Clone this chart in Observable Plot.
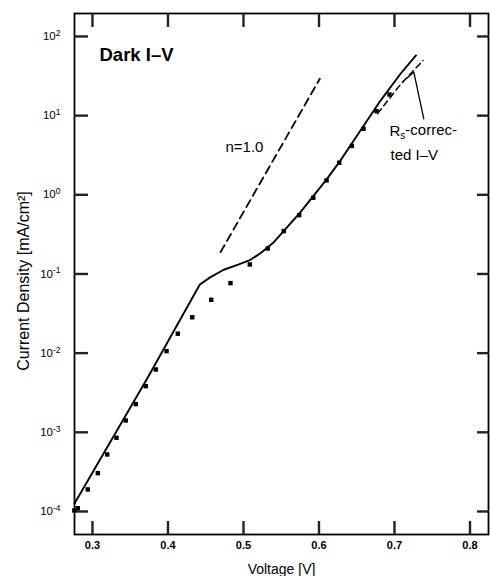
<!DOCTYPE html>
<html>
<head>
<meta charset="utf-8">
<script src="https://cdn.jsdelivr.net/npm/d3@7"></script>
<script src="https://cdn.jsdelivr.net/npm/@observablehq/plot@0.6"></script>
<style>
  html, body { margin: 0; padding: 0; background: white; }
</style>
</head>
<body>
<div id="chart"></div>
<script>
// Measured dark I-V points (voltage [V], current density [mA/cm^2])
const measV = [0.276, 0.2806, 0.2938, 0.3071, 0.3195, 0.3318, 0.3441, 0.3574, 0.3706, 0.3839,
  0.3981, 0.4130, 0.4321, 0.4573, 0.4828, 0.5084, 0.5322, 0.5534, 0.5738, 0.5924,
  0.6100, 0.6268, 0.6435, 0.6590, 0.6762, 0.6934];
const measJ = [1.03e-4, 1.10e-4, 1.90e-4, 3.05e-4, 5.25e-4, 8.53e-4, 1.41e-3, 2.27e-3, 3.83e-3, 6.22e-3,
  1.06e-2, 1.76e-2, 2.84e-2, 4.72e-2, 7.66e-2, 0.132, 0.210, 0.348, 0.553, 0.918,
  1.52, 2.54, 4.14, 6.82, 11.4, 18.5];

// Solid curve
const curveV = [0.2762, 0.3725, 0.4422, 0.4563, 0.4739, 0.4938, 0.5093, 0.5225, 0.5402, 0.5579,
  0.5755, 0.5932, 0.6109, 0.6285, 0.6461, 0.6815, 0.7080, 0.7285];
const curveJ = [1.26e-4, 4.79e-3, 0.0738, 0.0912, 0.113, 0.132, 0.151, 0.183, 0.252, 0.390,
  0.604, 0.982, 1.60, 2.72, 4.86, 15.5, 33.8, 57.5];

// Rs-corrected I-V (dashed)
const rsV = [0.6775, 0.7080, 0.7378];
const rsJ = [10.6, 24.8, 49.8];

// n = 1.0 reference slope (dashed)
const idealV = [0.4696, 0.6011];
const idealJ = [0.1886, 29.2];

// Leader line for the Rs-corrected label
const leaderV = [0.7159, 0.7256, 0.7388];
const leaderJ = [29.5, 35.4, 9.12];

// Axis ticks
const xTicks = [0.3, 0.4, 0.5, 0.6, 0.7, 0.8];
const yTicks = [1e-4, 1e-3, 1e-2, 1e-1, 1e0, 1e1, 1e2];

const toRows = (xs, ys) => xs.map((x, i) => ({x, y: ys[i]}));
const meas = toRows(measV, measJ);
const curve = toRows(curveV, curveJ);
const rs = toRows(rsV, rsJ);
const ideal = toRows(idealV, idealJ);
const leader = toRows(leaderV, leaderJ);

const font = '"Liberation Sans", Arial, Helvetica, sans-serif';
const tickColor = "#222222";

const chart = Plot.plot({
  width: 490,
  height: 576,
  marginLeft: 74,
  marginRight: 2,
  marginTop: 13,
  marginBottom: 42,
  style: {fontFamily: font, fontSize: "11px", background: "white"},
  x: {domain: [0.2762, 0.8245]},
  y: {type: "log", domain: [5.12e-5, 195]},
  marks: [
    Plot.frame({stroke: "#000", strokeWidth: 1.8}),
    // inward ticks on all four sides (negative tick size points into the frame)
    Plot.axisX({anchor: "bottom", ticks: xTicks, tickSize: -13, tickFormat: () => "", label: null, stroke: tickColor, strokeWidth: 2.4}),
    Plot.axisX({anchor: "top", ticks: xTicks, tickSize: -13, tickFormat: () => "", label: null, stroke: tickColor, strokeWidth: 2.4}),
    Plot.axisY({anchor: "left", ticks: yTicks, tickSize: -14, tickFormat: () => "", label: null, stroke: tickColor, strokeWidth: 2.4}),
    Plot.axisY({anchor: "right", ticks: yTicks, tickSize: -12, tickFormat: () => "", label: null, stroke: tickColor, strokeWidth: 2.4}),
    // tick labels
    Plot.axisX({anchor: "bottom", ticks: xTicks, tickSize: 0, tickPadding: 7, tickFormat: d => d.toFixed(1), label: null, fontSize: 11, fontWeight: "bold"}),
    Plot.axisY({anchor: "left", ticks: yTicks, tickSize: 0, tickPadding: 14, tickFormat: d => "10^" + Math.round(Math.log10(d)), label: null, fontSize: 11.5}),
    // axis titles
    Plot.text(["Voltage [V]"], {frameAnchor: "bottom", dy: 35, fontSize: 14, textAnchor: "middle", lineAnchor: "middle"}),
    Plot.text(["Current Density [mA/cm²]"], {frameAnchor: "left", dx: -51, dy: 7, rotate: -90, fontSize: 16, textAnchor: "middle", lineAnchor: "middle"}),
    // data
    Plot.line(curve, {x: "x", y: "y", stroke: "#000", strokeWidth: 1.9}),
    Plot.line(rs, {x: "x", y: "y", stroke: "#000", strokeWidth: 1.5, strokeDasharray: "6,4"}),
    Plot.line(ideal, {x: "x", y: "y", stroke: "#000", strokeWidth: 1.8, strokeDasharray: "8,5"}),
    Plot.line(leader, {x: "x", y: "y", stroke: "#000", strokeWidth: 1.3}),
    Plot.dot(meas, {x: "x", y: "y", symbol: "square", r: 2.5, fill: "#000", stroke: "none"}),
    // annotations
    Plot.text(["Dark I–V"], {x: 0.3093, y: 57.5, textAnchor: "start", fontSize: 18.5, fontWeight: "bold"}),
    Plot.text(["n=1.0"], {x: 0.4762, y: 3.96, textAnchor: "start", fontSize: 15}),
    Plot.text(["Rs-correc-"], {x: 0.6934, y: 6.31, textAnchor: "start", fontSize: 15}),
    Plot.text(["ted I–V"], {x: 0.6947, y: 3.14, textAnchor: "start", fontSize: 15})
  ]
});

// Superscript exponents on the y tick labels
const NS = "http://www.w3.org/2000/svg";
chart.querySelectorAll('[aria-label="y-axis tick label"] text').forEach(t => {
  const m = t.textContent.match(/^10\^(-?\d+)$/);
  if (!m) return;
  t.textContent = "";
  const base = document.createElementNS(NS, "tspan");
  base.textContent = "10";
  const sup = document.createElementNS(NS, "tspan");
  sup.textContent = m[1];
  sup.setAttribute("dy", "-0.5em");
  sup.setAttribute("font-size", "8.5px");
  t.appendChild(base);
  t.appendChild(sup);
});
// Subscript s in "Rs-correc-"
chart.querySelectorAll("text").forEach(t => {
  if (t.textContent === "Rs-correc-") {
    t.textContent = "";
    const a = document.createElementNS(NS, "tspan");
    a.textContent = "R";
    const s = document.createElementNS(NS, "tspan");
    s.textContent = "s";
    s.setAttribute("dy", "0.3em");
    s.setAttribute("font-size", "10px");
    const b = document.createElementNS(NS, "tspan");
    b.textContent = "-correc-";
    b.setAttribute("dy", "-0.3em");
    t.appendChild(a); t.appendChild(s); t.appendChild(b);
  }
});

document.getElementById("chart").appendChild(chart);
</script>
</body>
</html>
